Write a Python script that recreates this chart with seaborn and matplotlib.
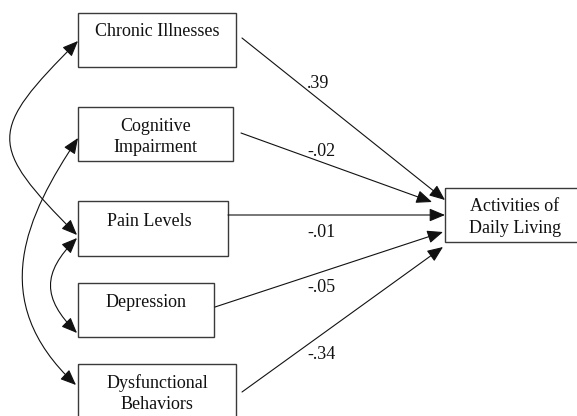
import numpy as np
import seaborn as sns
import matplotlib.pyplot as plt
from matplotlib.patches import Rectangle, FancyArrowPatch
from matplotlib.path import Path

# path model data
predictors = ["Chronic Illnesses", "Cognitive\nImpairment", "Pain Levels", "Depression", "Dysfunctional\nBehaviors"]
outcome = "Activities of\nDaily Living"
coefs = [".39", "-.02", "-.01", "-.05", "-.34"]
# correlated predictors (index pairs)
correlations = [(0, 2), (1, 4), (2, 3)]

# layout (pixel units, y downwards)
box_left = [78, 78, 78, 78, 78]
box_right = [236, 233, 228, 214, 236]
box_top = [13, 107, 201, 283, 364]
box_bottom = [67, 161, 256, 337, 430]
text_x = [157, 155.5, 149.5, 146, 157]
text_base = [36, 131, 226, 307, 388]
out_box = (445, 188, 600, 242)
out_text = (515, 211)
start_pts = [(242, 38), (241, 133), (228, 215), (215, 307), (242, 392)]
end_pts = [(445, 200), (432, 202), (445, 215), (443, 232), (443, 247)]
label_pos = [(307, 88), (307, 156), (307, 237), (307, 292), (307, 359)]
curve_pts = {
    (0, 2): [(78, 41), (-12, 131), (-13, 145), (77, 235)],
    (1, 4): [(78, 138), (27, 215), (-15, 300), (76, 385)],
    (2, 3): [(77, 238), (42, 273), (42, 298), (77, 333)],
}

sns.set_theme(style="white")
plt.rcParams["font.family"] = ["Liberation Serif", "DejaVu Serif"]

fig = plt.figure(figsize=(5.77, 4.16), dpi=100)
ax = fig.add_axes([0, 0, 1, 1])
ax.set_xlim(0, 577)
ax.set_ylim(416, 0)
ax.axis("off")

line_col = "#111111"
box_col = "#3a3a3a"
fs = 13
head = "head_length=0.6,head_width=0.25"

# predictor boxes
for i, name in enumerate(predictors):
    ax.add_patch(Rectangle((box_left[i], box_top[i]), box_right[i] - box_left[i],
                           box_bottom[i] - box_top[i], fill=False, ec=box_col, lw=1.0))
    lines = name.split("\n")
    for j, ln in enumerate(lines):
        ax.text(text_x[i], text_base[i] + 21 * j, ln, ha="center", va="baseline",
                fontsize=fs, color="#111111")

# outcome box
ax.add_patch(Rectangle((out_box[0], out_box[1]), out_box[2] - out_box[0],
                       out_box[3] - out_box[1], fill=False, ec=box_col, lw=1.0))
for j, ln in enumerate(outcome.split("\n")):
    ax.text(out_text[0], out_text[1] + 22 * j, ln, ha="center", va="baseline",
            fontsize=fs, color="#111111")

# direct paths
for i in range(len(predictors)):
    arr = FancyArrowPatch(start_pts[i], end_pts[i], arrowstyle="-|>," + head,
                          mutation_scale=16, shrinkA=0, shrinkB=0,
                          color=line_col, lw=0.8)
    ax.add_patch(arr)
    ax.text(label_pos[i][0], label_pos[i][1], coefs[i], ha="left", va="baseline",
            fontsize=13, color="#111111")

# correlations between predictors
codes = [Path.MOVETO, Path.CURVE4, Path.CURVE4, Path.CURVE4]
for pair in correlations:
    p = Path(np.array(curve_pts[pair], dtype=float), codes)
    arr = FancyArrowPatch(path=p, arrowstyle="<|-|>," + head,
                          mutation_scale=16, color=line_col, lw=0.8,
                          transform=ax.transData)
    ax.add_patch(arr)

fig.savefig("out.png", dpi=100, facecolor="white")
